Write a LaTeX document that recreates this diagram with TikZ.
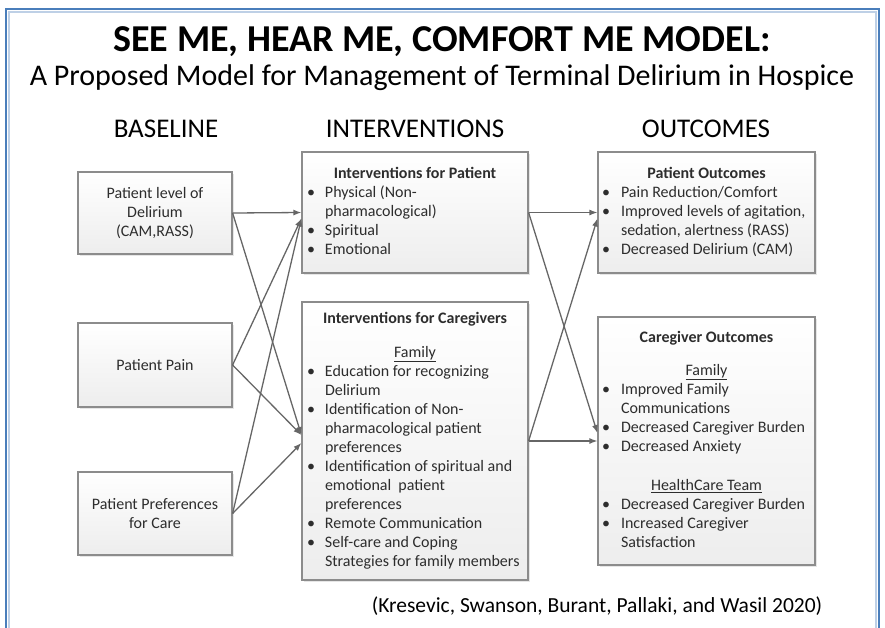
\documentclass[tikz,border=0pt]{standalone}
\usepackage{fontspec}
\setmainfont{Carlito}
\usepackage{tikz}
\usetikzlibrary{arrows.meta, shadows}
\definecolor{frameblue}{RGB}{74,126,187}
\definecolor{framelight}{RGB}{190,208,230}
\definecolor{boxtext}{RGB}{45,45,45}

\tikzset{
  box/.style={draw=black!45, line width=1.2pt, top color=white, bottom color=black!7,
    inner sep=0pt, text=boxtext, font=\fontsize{16}{19}\selectfont,
    drop shadow={shadow xshift=1.5pt, shadow yshift=-1.5pt, opacity=0.2}},
  link/.style={draw=black!60, line width=1.3pt, -{Latex[length=8pt, width=6pt]}},
  head/.style={font=\fontsize{27}{30}\selectfont},
}

\begin{document}
\begin{tikzpicture}[x=1pt, y=-1pt]
	\useasboundingbox (0,0) rectangle (885,627);
	\draw [framelight, line width=2pt] (9,640) -- (9,12) -- (876,12) -- (876,640);
	\draw [frameblue, line width=2.5pt] (6,640) -- (6,9) -- (879,9) -- (879,640);

	\node [font=\fontsize{38}{44}\selectfont\bfseries] (title) at (442,42) {SEE ME, HEAR ME, COMFORT ME MODEL:};
	\node [font=\fontsize{30}{34}\selectfont] (subtitle) at (442,78) {A Proposed Model for Management of Terminal Delirium in Hospice};

	\node [head] (hbase) at (166,129) {BASELINE};
	\node [head] (hint) at (415,129) {INTERVENTIONS};
	\node [head] (hout) at (706,129) {OUTCOMES};

	% baseline
	\node [box, align=center, minimum width=154pt, minimum height=82pt] (b1) at (155,213) {Patient level of\\Delirium\\(CAM,RASS)};
	\node [box, align=center, minimum width=154pt, minimum height=84pt] (b2) at (155,365) {Patient Pain};
	\node [box, align=center, minimum width=154pt, minimum height=83pt] (b3) at (155,513.5) {Patient Preferences\\for Care};

	% interventions
	\node [box, minimum width=226pt, minimum height=121pt] (i1) at (415,212.5) {%
	\begin{tabular}{@{}p{18pt}@{}p{198pt}@{}}
	\multicolumn{2}{@{}c@{}}{\textbf{Interventions for Patient}}\\
	\textbullet & Physical (Non-\\
	 & pharmacological)\\
	\textbullet & Spiritual\\
	\textbullet & Emotional
	\end{tabular}};
	\node [box, minimum width=226pt, minimum height=278pt] (i2) at (415,441) {%
	\begin{tabular}{@{}p{18pt}@{}p{198pt}@{}}
	\multicolumn{2}{@{}c@{}}{\textbf{Interventions for Caregivers}}\\[15pt]
	\multicolumn{2}{@{}c@{}}{\underline{Family}}\\
	\textbullet & Education for recognizing\\
	 & Delirium\\
	\textbullet & Identification of Non-\\
	 & pharmacological patient\\
	 & preferences\\
	\textbullet & Identification of spiritual and\\
	 & emotional\ \ patient\\
	 & preferences\\
	\textbullet & Remote Communication\\
	\textbullet & Self-care and Coping\\
	 & Strategies for family members
	\end{tabular}};

	% outcomes
	\node [box, minimum width=217pt, minimum height=121pt] (o1) at (706.5,212.5) {%
	\begin{tabular}{@{}p{19pt}@{}p{190pt}@{}}
	\multicolumn{2}{@{}c@{}}{\textbf{Patient Outcomes}}\\
	\textbullet & Pain Reduction/Comfort\\
	\textbullet & Improved levels of agitation,\\
	 & sedation, alertness (RASS)\\
	\textbullet & Decreased Delirium (CAM)
	\end{tabular}};
	\node [box, minimum width=217pt, minimum height=248pt] (o2) at (706.5,441) {%
	\begin{tabular}{@{}p{19pt}@{}p{190pt}@{}}
	\multicolumn{2}{@{}c@{}}{\textbf{Caregiver Outcomes}}\\[14pt]
	\multicolumn{2}{@{}c@{}}{\underline{Family}}\\
	\textbullet & Improved Family\\
	 & Communications\\
	\textbullet & Decreased Caregiver Burden\\
	\textbullet & Decreased Anxiety\\[20pt]
	\multicolumn{2}{@{}c@{}}{\underline{HealthCare Team}}\\
	\textbullet & Decreased Caregiver Burden\\
	\textbullet & Increased Caregiver\\
	 & Satisfaction
	\end{tabular}};

	\draw [link] (b1.east) -- (i1.west);
	\draw [link] (b1.east) -- ([yshift=6pt]i2.west);
	\draw [link] (b2.east) -- ([yshift=-6pt]i1.west);
	\draw [link] (b2.east) -- ([yshift=6pt]i2.west);
	\draw [link] (b3.east) -- ([yshift=-6pt]i1.west);
	\draw [link] (b3.east) -- ([yshift=-2pt]i2.west);
	\draw [link] (i1.east) -- (o1.west);
	\draw [link] (i1.east) -- ([yshift=8pt]o2.west);
	\draw [link] (i2.east) -- ([yshift=-6pt]o1.west);
	\draw [link] (i2.east) -- (o2.west);

	\node [font=\fontsize{21.5}{26}\selectfont] (cite) at (597,606) {(Kresevic, Swanson, Burant, Pallaki, and Wasil 2020)};
\end{tikzpicture}
\end{document}
